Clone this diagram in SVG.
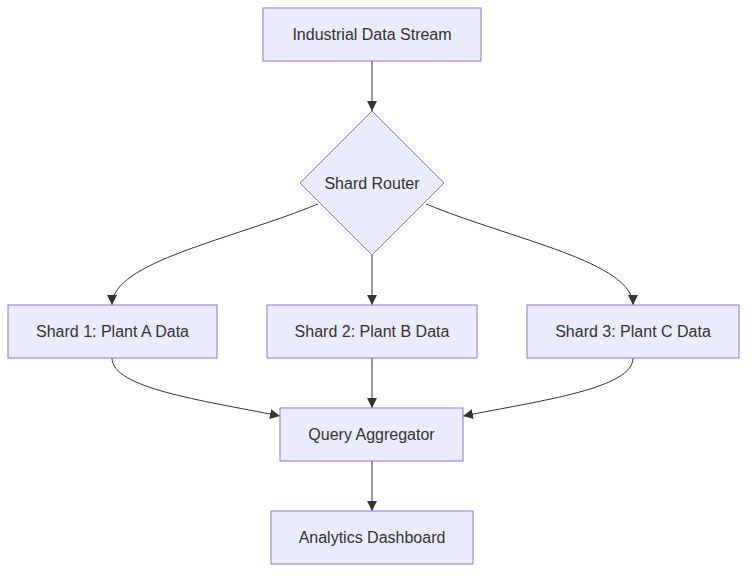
<svg xmlns="http://www.w3.org/2000/svg" width="754" height="579" viewBox="0 0 754 579">
<defs>
<marker id="arrow" viewBox="0 0 10 10" refX="10" refY="5" markerUnits="userSpaceOnUse" markerWidth="10" markerHeight="10" orient="auto">
<path d="M0,0 L10,5 L0,10 z" fill="#333333"/>
</marker>
</defs>
<style>
.node rect, .node polygon { fill: #ECECFF; stroke: #9370DB; stroke-width: 1; }
.node text { font-family: "Trebuchet MS", "Liberation Sans", Arial, sans-serif; font-size: 16px; fill: #333333; text-anchor: middle; dominant-baseline: central; }
.edges path { fill: none; stroke: #333333; stroke-width: 1; marker-end: url(#arrow); }
</style>
<rect width="754" height="579" fill="#FFFFFF"/>
<g class="edges">
<path d="M372,61 L372,111"/>
<path d="M318,204 C230,240 112,262 112,305"/>
<path d="M372,255 L372,305"/>
<path d="M426,204 C514,240 633,262 633,305"/>
<path d="M112,358 C112,388 200,400 280,416"/>
<path d="M372,358 L372,408"/>
<path d="M633,358 C633,388 545,400 463,416"/>
<path d="M372,461 L372,511"/>
</g>
<g id="stream" class="node">
<rect x="263" y="8" width="218" height="53"/>
<text x="372" y="34.5">Industrial Data Stream</text>
</g>
<g id="router" class="node">
<polygon points="372,111 444,183 372,255 300,183"/>
<text x="372" y="183">Shard Router</text>
</g>
<g id="shard1" class="node">
<rect x="8" y="305" width="209" height="53"/>
<text x="112.5" y="331.5">Shard 1: Plant A Data</text>
</g>
<g id="shard2" class="node">
<rect x="267" y="305" width="210" height="53"/>
<text x="372" y="331.5">Shard 2: Plant B Data</text>
</g>
<g id="shard3" class="node">
<rect x="527" y="305" width="212" height="53"/>
<text x="633" y="331.5">Shard 3: Plant C Data</text>
</g>
<g id="aggregator" class="node">
<rect x="280" y="408" width="183" height="53"/>
<text x="371.5" y="434.5">Query Aggregator</text>
</g>
<g id="dashboard" class="node">
<rect x="271" y="511" width="202" height="53"/>
<text x="372" y="537.5">Analytics Dashboard</text>
</g>
</svg>
